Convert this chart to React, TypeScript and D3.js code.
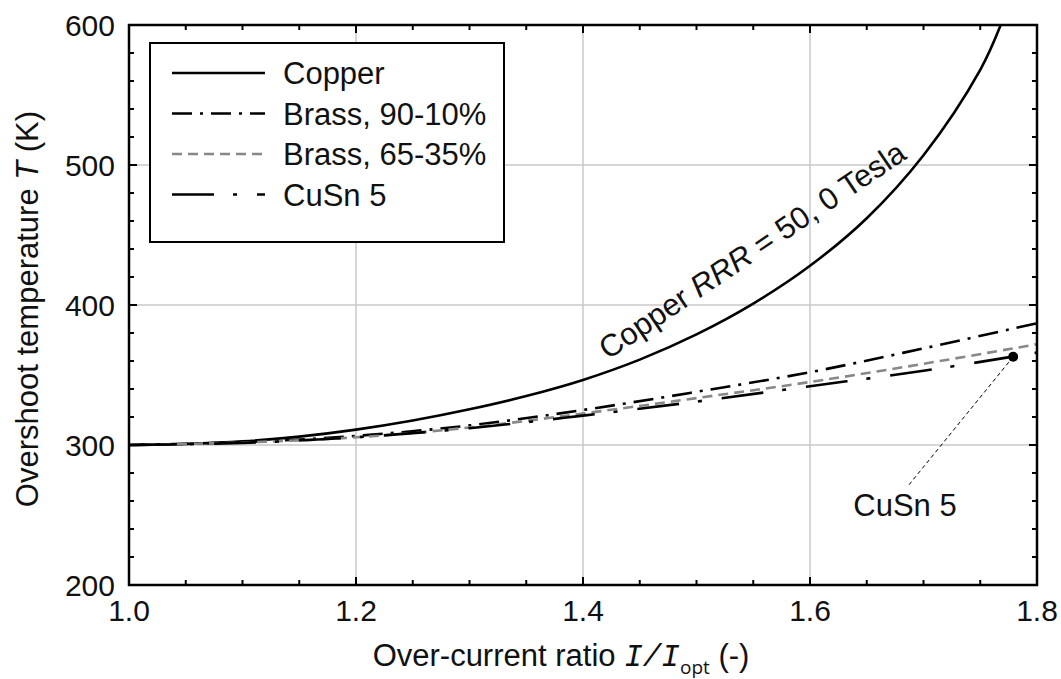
import React from "react";
import * as d3 from "d3";

const ratioX = [1.0, 1.05, 1.1, 1.15, 1.2, 1.25, 1.3, 1.35, 1.4, 1.45, 1.5, 1.55, 1.6, 1.65, 1.7, 1.75, 1.768];
const copperT = [300, 300.8, 302.6, 306, 311, 317.5, 325.5, 335, 346.5, 361, 379, 401, 428, 462, 507, 568, 600];

const alloyX = [1.0, 1.1, 1.2, 1.3, 1.4, 1.5, 1.6, 1.7, 1.8];
const brass9010T = [300, 302, 306.5, 314, 325, 338, 352, 369, 387];
const brass6535T = [300, 301.8, 305.5, 312.5, 322.5, 333.5, 345, 358, 372];
const cusn5T = [300, 301.5, 305.5, 312, 321, 331, 342, 353, 366];

const xTicks = [1.0, 1.2, 1.4, 1.6, 1.8];
const yTicks = [200, 300, 400, 500, 600];
const legendLabels = ["Copper", "Brass, 90-10%", "Brass, 65-35%", "CuSn 5"];
const markerPoint = { x: 1.779, y: 363 };

const W = 1061, H = 679;
const L = 129, R = 1037, T = 25, B = 585;
const FONT = "Liberation Sans, Arial, Helvetica, sans-serif";

export default function App() {
  const x = d3.scaleLinear().domain([1.0, 1.8]).range([L, R]);
  const y = d3.scaleLinear().domain([200, 600]).range([B, T]);
  const line = d3.line<[number, number]>().x(d => x(d[0])).y(d => y(d[1])).curve(d3.curveCatmullRom.alpha(0.5));

  const series = [
    { label: legendLabels[0], xs: ratioX, ys: copperT, color: "#000", dash: "none", w: 2.6 },
    { label: legendLabels[1], xs: alloyX, ys: brass9010T, color: "#000", dash: "20,8,3,8", w: 2.6 },
    { label: legendLabels[2], xs: alloyX, ys: brass6535T, color: "#888", dash: "10,6", w: 2.6 },
    { label: legendLabels[3], xs: alloyX, ys: cusn5T, color: "#000", dash: "42,19,4,20", w: 2.6 },
  ];

  const minorX = d3.range(0, 17).map(i => 1.0 + i * 0.05);
  const minorY = d3.range(0, 21).map(i => 200 + i * 20);

  const mx = x(markerPoint.x), my = y(markerPoint.y);

  return (
    <svg width={W} height={H} style={{ position: "absolute", left: 0, top: 0, background: "#fff" }} fontFamily={FONT}>
      <defs>
        <clipPath id="plotclip"><rect x={L} y={T} width={R - L} height={B - T} /></clipPath>
      </defs>
      <rect x={0} y={0} width={W} height={H} fill="#fff" />
      {xTicks.map(t => (
        <line key={"gx" + t} x1={x(t)} x2={x(t)} y1={T} y2={B} stroke="#c8c8c8" strokeWidth={1.5} />
      ))}
      {yTicks.map(t => (
        <line key={"gy" + t} x1={L} x2={R} y1={y(t)} y2={y(t)} stroke="#c8c8c8" strokeWidth={1.5} />
      ))}
      {minorX.map((t, i) => {
        const len = i % 4 === 0 ? 8 : 5;
        return (
          <g key={"tx" + i}>
            <line x1={x(t)} x2={x(t)} y1={B} y2={B - len} stroke="#000" strokeWidth={2} />
            <line x1={x(t)} x2={x(t)} y1={T} y2={T + len} stroke="#000" strokeWidth={2} />
          </g>
        );
      })}
      {minorY.map((t, i) => {
        const len = i % 5 === 0 ? 8 : 5;
        return (
          <g key={"ty" + i}>
            <line x1={L} x2={L + len} y1={y(t)} y2={y(t)} stroke="#000" strokeWidth={2} />
            <line x1={R} x2={R - len} y1={y(t)} y2={y(t)} stroke="#000" strokeWidth={2} />
          </g>
        );
      })}
      <g clipPath="url(#plotclip)">
        {series.map(s => (
          <path key={s.label} d={line(s.xs.map((v, i) => [v, s.ys[i]] as [number, number])) || ""}
            fill="none" stroke={s.color} strokeWidth={s.w} strokeDasharray={s.dash} />
        ))}
      </g>
      <line x1={mx} y1={my} x2={908} y2={486} stroke="#000" strokeWidth={1} strokeDasharray="4,3" />
      <circle cx={mx} cy={my} r={5} fill="#000" />
      <text x={905} y={516} fontSize={31} textAnchor="middle" fill="#111">CuSn 5</text>
      <text transform="translate(758,259) rotate(-34)" fontSize={31} textAnchor="middle" fill="#111">
        Copper <tspan fontStyle="italic">RRR</tspan> = 50, 0 Tesla
      </text>
      <rect x={L} y={T} width={R - L} height={B - T} fill="none" stroke="#000" strokeWidth={2.5} />
      {xTicks.map(t => (
        <text key={"lx" + t} x={x(t)} y={621} fontSize={30} textAnchor="middle" fill="#111">{t.toFixed(1)}</text>
      ))}
      {yTicks.map(t => (
        <text key={"ly" + t} x={115} y={y(t) + 10.5} fontSize={30} textAnchor="end" fill="#111">{t}</text>
      ))}
      <text x={561} y={666} fontSize={31} textAnchor="middle" fill="#111">
        Over-current ratio <tspan fontFamily="Liberation Mono, DejaVu Sans Mono, monospace" fontStyle="italic">I/I</tspan>
        <tspan fontFamily="Open Sans, Noto Sans, sans-serif" fontSize={19} dy={8}>opt</tspan>
        <tspan dy={-8}> (-)</tspan>
      </text>
      <text transform="translate(38,309) rotate(-90)" fontSize={31} textAnchor="middle" fill="#111">
        Overshoot temperature <tspan fontStyle="italic">T</tspan> (K)
      </text>
      <rect x={150} y={43} width={354} height={199} fill="#fff" stroke="#000" strokeWidth={2} />
      {series.map((s, i) => {
        const ly = 73 + i * 40.5;
        return (
          <g key={"lg" + i}>
            <line x1={172} x2={265} y1={ly} y2={ly} stroke={s.color} strokeWidth={s.w} strokeDasharray={s.dash} />
            <text x={283} y={ly + 11} fontSize={31} fill="#111">{s.label}</text>
          </g>
        );
      })}
    </svg>
  );
}
